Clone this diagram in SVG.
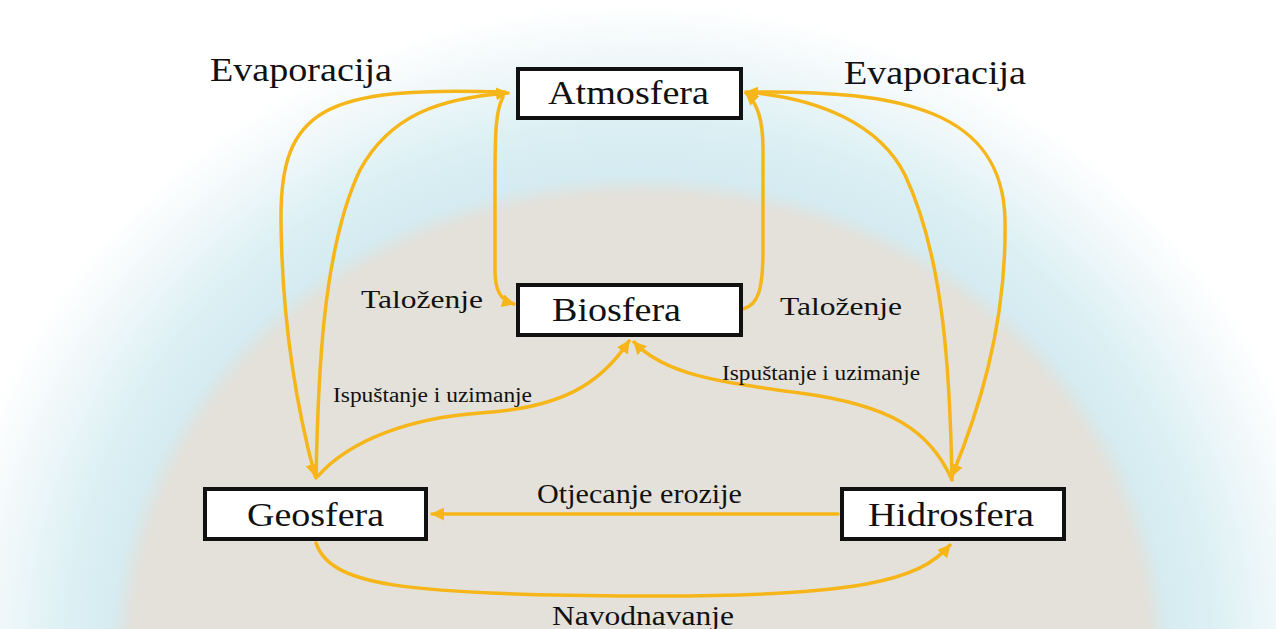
<svg xmlns="http://www.w3.org/2000/svg" width="1276" height="629" viewBox="0 0 1276 629">
<defs>
<radialGradient id="halo" cx="640" cy="660" r="700" gradientUnits="userSpaceOnUse" gradientTransform="translate(640 660) scale(1 0.94) translate(-640 -660)">
<stop offset="0" stop-color="#dceef3"/>
<stop offset="0.74" stop-color="#d4ebf1"/>
<stop offset="0.82" stop-color="#dcf0f4"/>
<stop offset="0.92" stop-color="#f1f8fa"/>
<stop offset="1" stop-color="#ffffff"/>
</radialGradient>
<radialGradient id="ground" cx="640" cy="660" r="530" gradientUnits="userSpaceOnUse" gradientTransform="translate(640 660) scale(1 0.915) translate(-640 -660)">
<stop offset="0" stop-color="#e3e1da"/>
<stop offset="0.96" stop-color="#e3e1da"/>
<stop offset="1" stop-color="#e3e1da" stop-opacity="0"/>
</radialGradient>
<marker id="arr" markerUnits="userSpaceOnUse" viewBox="0 0 12 12" refX="11" refY="6" markerWidth="13" markerHeight="13" orient="auto">
<path d="M0,0 L12,6 L0,12 z" fill="#f6b619"/>
</marker>
<style>
.box{fill:#ffffff;stroke:#111111;stroke-width:4}
.lbl{fill:#111111}
.con{fill:none;stroke:#f6b619;stroke-width:3.5;stroke-linecap:round;marker-end:url(#arr)}
</style>
</defs>
<rect x="0" y="0" width="1276" height="629" fill="#ffffff"/>
<ellipse cx="640" cy="660" rx="700" ry="658" fill="url(#halo)"/>
<ellipse cx="640" cy="660" rx="530" ry="485" fill="url(#ground)"/>

<g id="connectors">
<path class="con" d="M 505 92 C 325 86, 280 108, 281 220 C 282 330, 300 420, 315 476"/>
<path class="con" d="M 316 478 C 318 380, 322 250, 360 170 C 390 115, 440 98, 508 93"/>
<path class="con" d="M 503 97 C 496 110, 495 130, 495 180 L 495 270 C 495 290, 500 300, 514 304"/>
<path class="con" d="M 743 309 C 758 305, 763 290, 763 250 L 763 150 C 763 120, 758 104, 746 93"/>
<path class="con" d="M 752 92 C 900 90, 1003 110, 1005 220 C 1007 330, 975 420, 952 476"/>
<path class="con" d="M 952 478 C 950 380, 945 260, 905 175 C 880 125, 820 98, 746 92"/>
<path class="con" d="M 318 476 C 350 440, 410 418, 480 413 C 560 408, 600 385, 629 341"/>
<path class="con" d="M 952 480 C 930 430, 890 405, 800 393 C 720 382, 665 375, 634 342"/>
<path class="con" d="M 838 514 L 432 514"/>
<path class="con" d="M 316 543 C 330 585, 400 595, 640 596 C 860 597, 920 580, 950 545"/>
</g>

<g font-family="'Liberation Serif', 'Times New Roman', serif">
<g id="atmosfera">
<rect class="box" x="518" y="69" width="223" height="49"/>
<text class="lbl" x="548" y="104" font-size="33" textLength="161" lengthAdjust="spacingAndGlyphs">Atmosfera</text>
</g>
<g id="biosfera">
<rect class="box" x="518" y="285" width="223" height="50"/>
<text class="lbl" x="552" y="321" font-size="34" textLength="129" lengthAdjust="spacingAndGlyphs">Biosfera</text>
</g>
<g id="geosfera">
<rect class="box" x="205" y="489" width="221" height="50"/>
<text class="lbl" x="247" y="526" font-size="34" textLength="137" lengthAdjust="spacingAndGlyphs">Geosfera</text>
</g>
<g id="hidrosfera">
<rect class="box" x="842" y="489" width="222" height="50"/>
<text class="lbl" x="868" y="526" font-size="34" textLength="166" lengthAdjust="spacingAndGlyphs">Hidrosfera</text>
</g>

<g id="labels">
<text class="lbl" x="210" y="81" font-size="33" textLength="182" lengthAdjust="spacingAndGlyphs">Evaporacija</text>
<text class="lbl" x="844" y="84" font-size="33" textLength="182" lengthAdjust="spacingAndGlyphs">Evaporacija</text>
<text class="lbl" x="361" y="308" font-size="26" textLength="122" lengthAdjust="spacingAndGlyphs">Taloženje</text>
<text class="lbl" x="780" y="315" font-size="26" textLength="122" lengthAdjust="spacingAndGlyphs">Taloženje</text>
<text class="lbl" x="333" y="402" font-size="20" textLength="199" lengthAdjust="spacingAndGlyphs">Ispuštanje i uzimanje</text>
<text class="lbl" x="722" y="380" font-size="20" textLength="198" lengthAdjust="spacingAndGlyphs">Ispuštanje i uzimanje</text>
<text class="lbl" x="537" y="503" font-size="27" textLength="205" lengthAdjust="spacingAndGlyphs">Otjecanje erozije</text>
<text class="lbl" x="552" y="625" font-size="27" textLength="182" lengthAdjust="spacingAndGlyphs">Navodnavanje</text>
</g>
</g>
</svg>
